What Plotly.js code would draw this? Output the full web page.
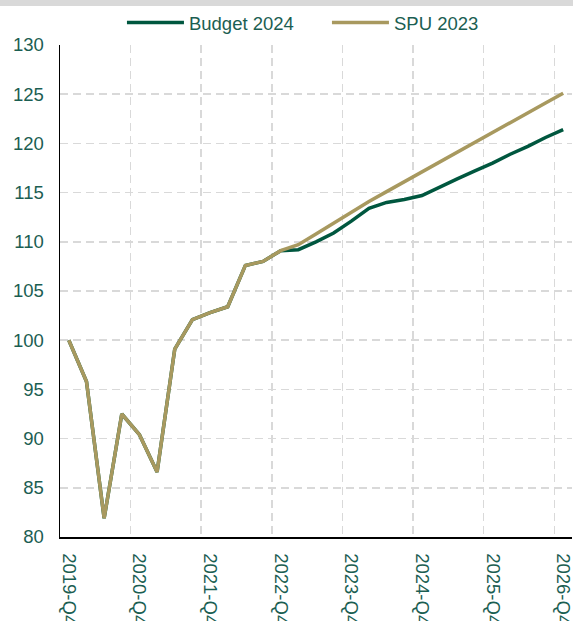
<!DOCTYPE html>
<html>
<head>
<meta charset="utf-8">
<script src="https://cdn.plot.ly/plotly-3.0.1.min.js"></script>
<style>
  html, body { margin: 0; padding: 0; background: #ffffff; }
  #band { width: 573px; height: 6px; background: #d9d9d9; }
  #chart { width: 573px; height: 615px; }
</style>
</head>
<body>
<div id="band"></div>
<div id="chart"></div>
<script>
// Quarters from 2019-Q4 to 2026-Q4
const quarters = [
  "2019-Q4",
  "2020-Q1", "2020-Q2", "2020-Q3", "2020-Q4",
  "2021-Q1", "2021-Q2", "2021-Q3", "2021-Q4",
  "2022-Q1", "2022-Q2", "2022-Q3", "2022-Q4",
  "2023-Q1", "2023-Q2", "2023-Q3", "2023-Q4",
  "2024-Q1", "2024-Q2", "2024-Q3", "2024-Q4",
  "2025-Q1", "2025-Q2", "2025-Q3", "2025-Q4",
  "2026-Q1", "2026-Q2", "2026-Q3", "2026-Q4"
];

const budget2024 = [
  100.0, 95.8, 81.9, 92.5, 90.4, 86.6, 99.1, 102.1, 102.8, 103.4, 107.6, 108.0, 109.1,
  109.2, 110.0, 110.9, 112.1, 113.4, 114.0, 114.3, 114.7,
  115.6, 116.4, 117.2, 118.0, 118.9, 119.7, 120.6, 121.4
];

const spu2023 = [
  100.0, 95.8, 81.9, 92.5, 90.4, 86.6, 99.1, 102.1, 102.8, 103.4, 107.6, 108.0, 109.1,
  109.7, 110.8, 111.9, 113.1, 114.1, 115.1, 116.1, 117.1,
  118.0, 119.0, 120.1, 121.1, 122.1, 123.1, 124.1, 125.1
];

const seriesNames = ["Budget 2024", "SPU 2023"];

const textColor = "#1b5e52";
const font = { family: "Liberation Sans, Arial, sans-serif", size: 18.5, color: textColor };

const traces = [
  {
    x: quarters, y: budget2024, name: seriesNames[0], type: "scatter", mode: "lines",
    line: { color: "#00573f", width: 3.5 }
  },
  {
    x: quarters, y: spu2023, name: seriesNames[1], type: "scatter", mode: "lines",
    line: { color: "#a8995f", width: 3.5 }
  }
];

const layout = {
  width: 573, height: 615,
  margin: { l: 60, r: 1, t: 39, b: 84, pad: 0, autoexpand: false },
  paper_bgcolor: "#ffffff", plot_bgcolor: "#ffffff",
  font: font,
  showlegend: true,
  legend: {
    orientation: "h", x: 0.121, xanchor: "left", y: 1.045, yanchor: "middle",
    font: font, itemwidth: 57, entrywidth: 133, entrywidthmode: "pixels",
    bgcolor: "rgba(0,0,0,0)"
  },
  xaxis: {
    type: "category",
    range: [-0.5, 28.5],
    tickmode: "linear", tick0: 0, dtick: 4,
    tickson: "boundaries",
    tickangle: 90,
    ticks: "", ticklabelstandoff: 11,
    showgrid: true, gridcolor: "#d9d9d9", gridwidth: 1.5, griddash: "8px,5px",
    showline: true, linecolor: "#000000", linewidth: 1.5,
    zeroline: false, fixedrange: true,
    tickfont: font
  },
  yaxis: {
    range: [80, 130], tickmode: "linear", tick0: 80, dtick: 5,
    ticks: "", ticklabelstandoff: 11,
    showgrid: true, gridcolor: "#d9d9d9", gridwidth: 1.5, griddash: "8px,5px",
    showline: true, linecolor: "#000000", linewidth: 1.5,
    zeroline: false, fixedrange: true,
    tickfont: font
  }
};

Plotly.newPlot("chart", traces, layout, { displayModeBar: false, staticPlot: true });
</script>
</body>
</html>
